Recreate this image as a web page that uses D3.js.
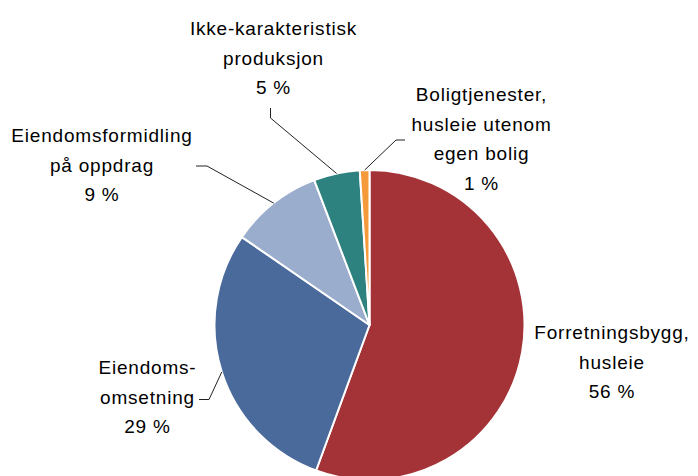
<!DOCTYPE html>
<html>
<head>
<meta charset="utf-8">
<script src="https://cdn.jsdelivr.net/npm/d3@7"></script>
<style>
  body { margin: 0; background: #fff; }
  svg text { font-family: "Liberation Sans", Arial, sans-serif; font-size: 19px; fill: #000; }
</style>
</head>
<body>
<svg id="chart"></svg>
<script>
// data, clockwise from 12 o'clock
let categories = [
  ["Forretningsbygg,", "husleie"],
  ["Eiendoms-", "omsetning"],
  ["Eiendomsformidling", "på oppdrag"],
  ["Ikke-karakteristisk", "produksjon"],
  ["Boligtjenester,", "husleie utenom", "egen bolig"]
]
let shares = [55.6, 29.0, 9.6, 4.8, 1.0]
let pctLabels = ["56 %", "29 %", "9 %", "5 %", "1 %"]
let colors = ["#a43338", "#4a6a9b", "#9aadcd", "#2d8280", "#f59a3b"]

let width = 698
let height = 476
let cx = 369.5
let cy = 325
let radius = 155
let lineHeight = 29.5

// label layout: centre x, first baseline, and leader elbow (null = no leader)
let labelPos = [
  {x: 612, y: 339, elbow: null},
  {x: 147.5, y: 374, elbow: [[199, 399.5], [209, 399.5]]},
  {x: 102, y: 142, elbow: [[196, 166], [207, 166]]},
  {x: 273.5, y: 35, elbow: [[270.5, 108], [270.5, 118]]},
  {x: 481.5, y: 101, elbow: [[405, 140], [396, 140]]}
]

let values = shares.map((s, i) => ({name: categories[i], value: s, pct: pctLabels[i], color: colors[i], i: i}))

let svg = d3.select("#chart")
svg.attr("width", width).attr("height", height)

let pie = d3.pie().sort(null).value(d => d.value)
let arc = d3.arc().innerRadius(0).outerRadius(radius)

let g = svg.append("g").attr("transform", "translate(" + cx + "," + cy + ")")

let arcs = pie(values)

g.selectAll("path")
  .data(arcs)
  .enter()
  .append("path")
  .attr("d", arc)
  .attr("fill", d => d.data.color)
  .attr("stroke", "#fff")
  .attr("stroke-width", 2)
  .attr("stroke-linejoin", "round")

// leader lines
arcs.forEach(d => {
  let pos = labelPos[d.index]
  if (!pos.elbow) return
  let mid = (d.startAngle + d.endAngle) / 2
  let end = [cx + Math.sin(mid) * radius, cy - Math.cos(mid) * radius]
  let pts = pos.elbow.concat([end])
  svg.append("path")
    .attr("d", d3.line()(pts))
    .attr("fill", "none")
    .attr("stroke", "#222")
    .attr("stroke-width", 1)
})

// labels
arcs.forEach(d => {
  let pos = labelPos[d.index]
  let lines = d.data.name.concat([d.data.pct])
  let t = svg.append("text")
    .attr("text-anchor", "middle")
    .attr("letter-spacing", "0.8px")
  lines.forEach((ln, k) => {
    t.append("tspan")
      .attr("x", pos.x)
      .attr("y", pos.y + k * lineHeight)
      .text(ln)
  })
})
</script>
</body>
</html>
